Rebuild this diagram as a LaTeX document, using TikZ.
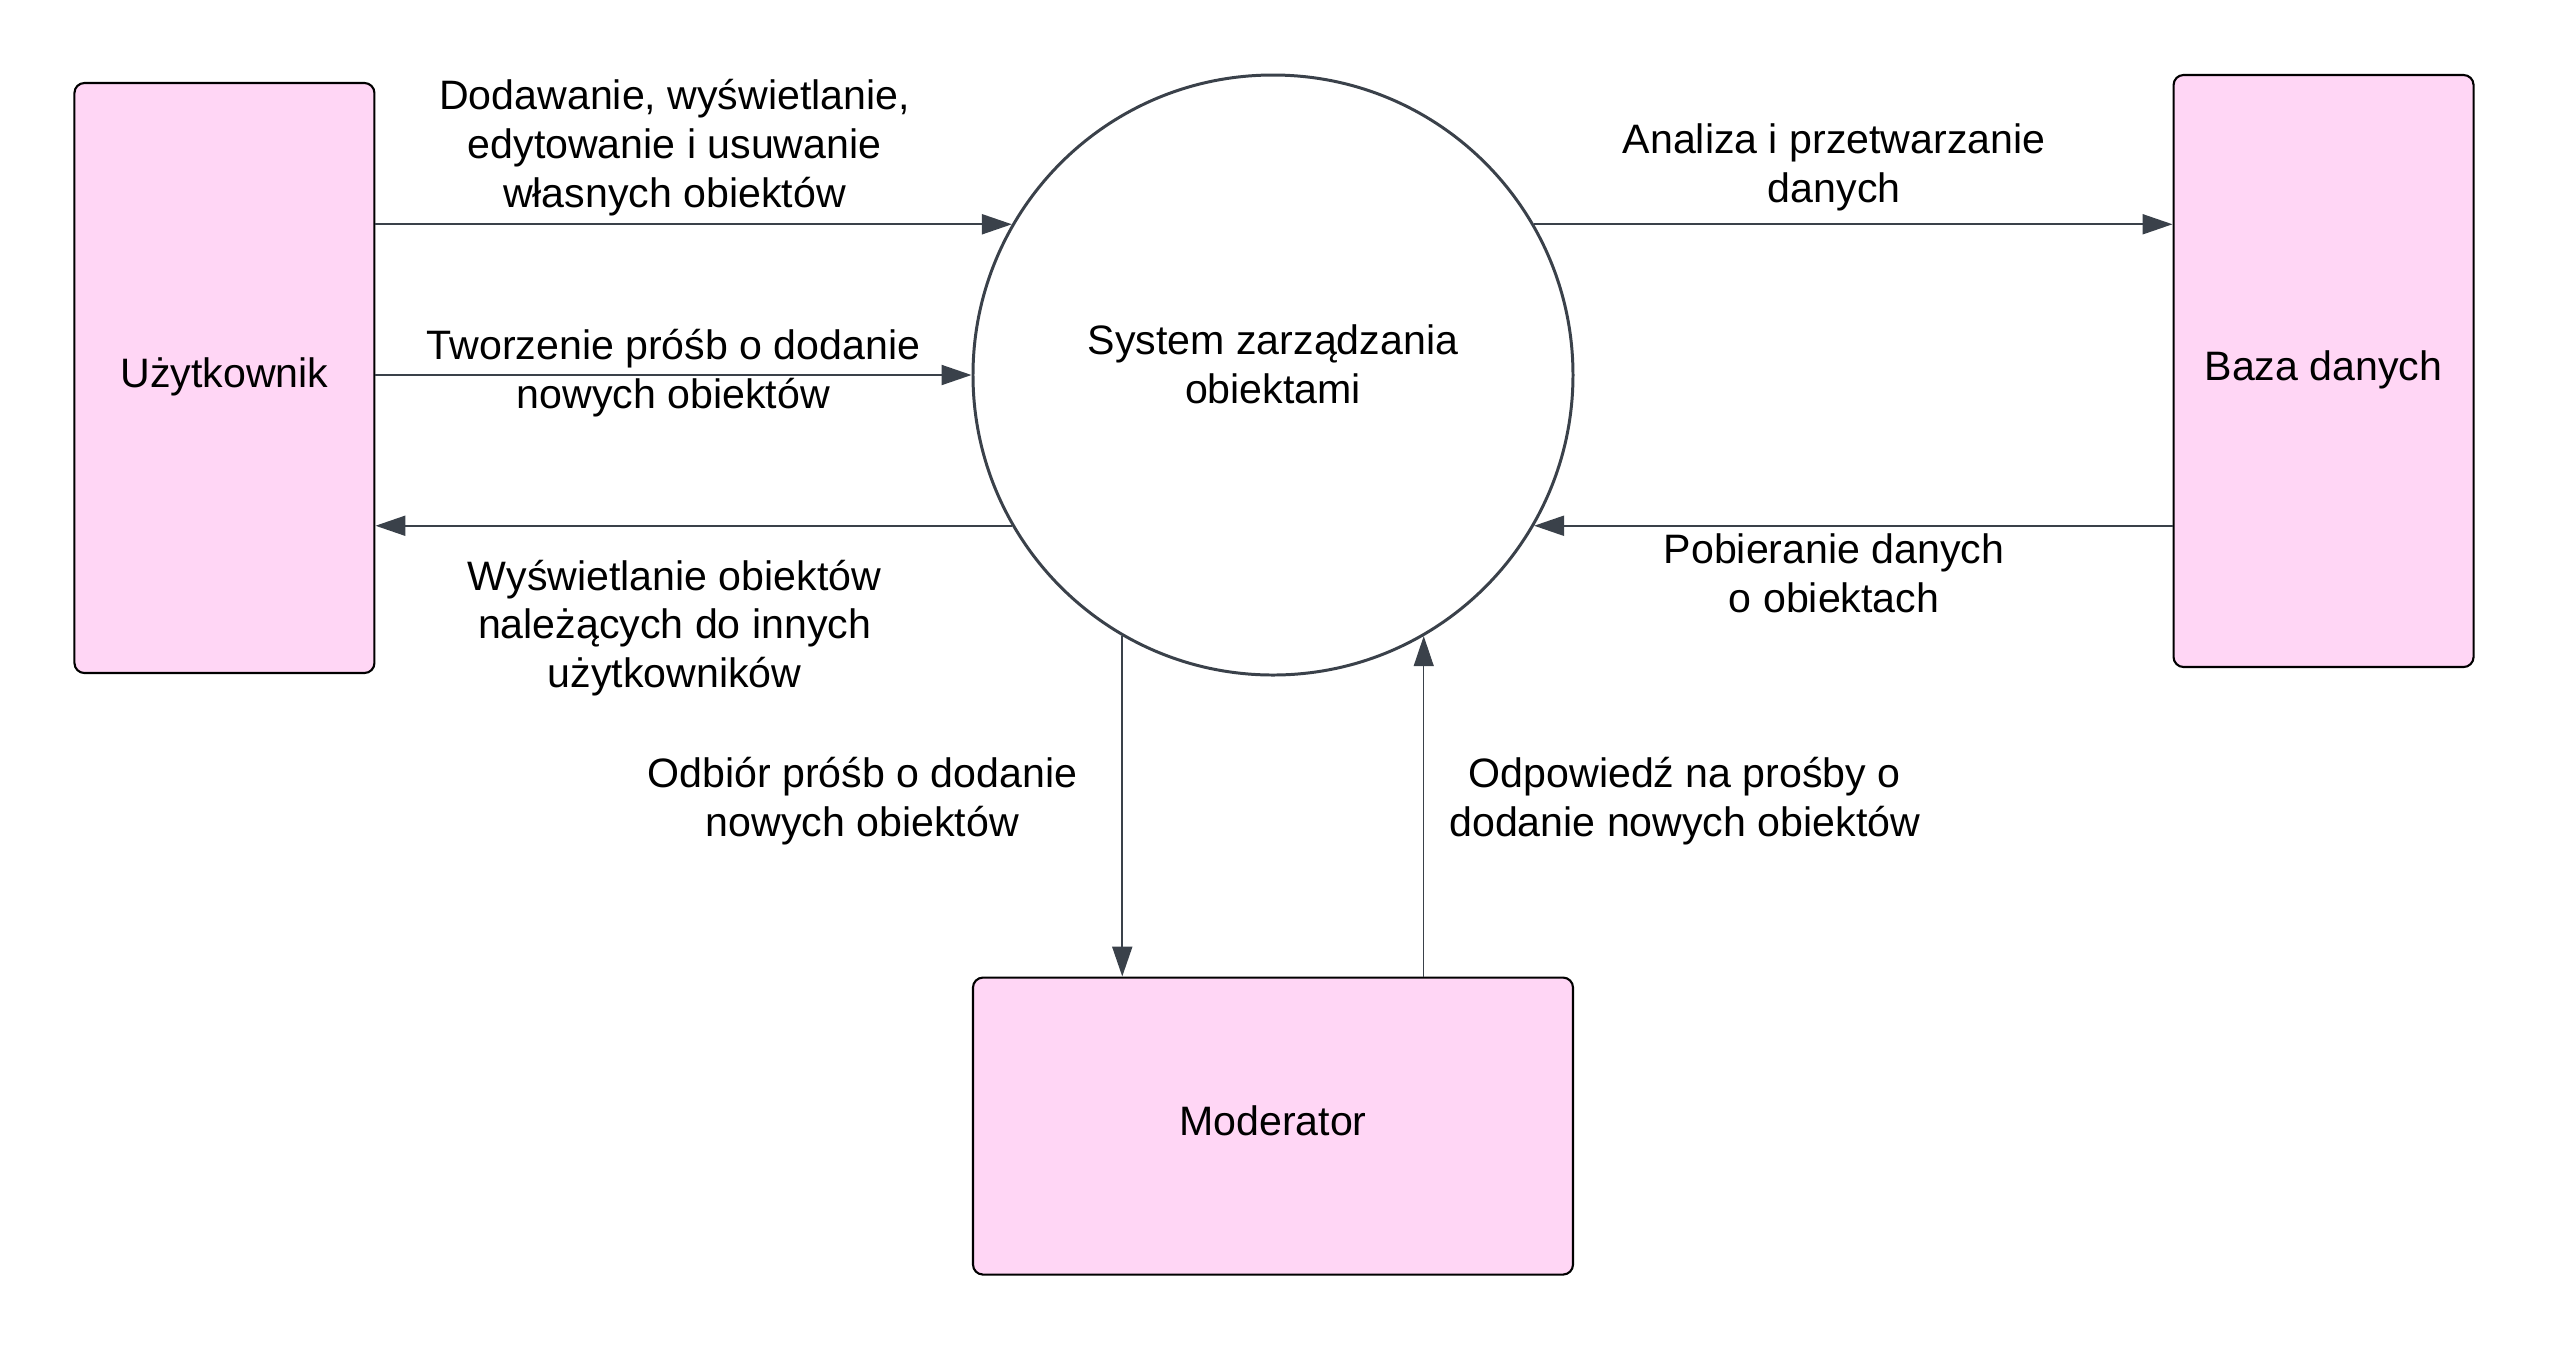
\documentclass[tikz,border=0pt]{standalone}
\usepackage{fontspec}
\setmainfont{Liberation Sans}
\usepackage{xcolor}
\usetikzlibrary{shapes.geometric,positioning}
\usetikzlibrary{arrows.meta}

\definecolor{boxpink}{RGB}{255,214,245}
\definecolor{linegray}{RGB}{58,65,74}

\begin{document}
\begin{tikzpicture}[every node/.style={font=\fontsize{11.7}{13.9}\selectfont}, node distance=3cm,
  actor/.style={draw=black, line width=0.6pt, fill=boxpink, rounded corners=0.1cm, text height=8.6pt, text depth=3.2pt},
  flow/.style={draw=linegray, line width=0.6pt, -{Triangle[length=0.3cm, width=0.2cm]}},
  lbl/.style={align=center, inner sep=2pt}]

\useasboundingbox (-12.73,3.75) rectangle (12.77,-9.75);

\node[draw=linegray, line width=0.85pt, circle, minimum size=6cm, align=center, text depth=6.4pt] (system) {System zarządzania\\obiektami};

\node[actor, minimum width=3cm, minimum height=5.9cm, left=5.96cm of system, yshift=-0.03cm] (user) {Użytkownik};
\node[actor, minimum width=3cm, minimum height=5.92cm, right=5.98cm of system, yshift=0.04cm] (db) {Baza danych};
\node[actor, minimum width=6cm, minimum height=2.97cm, below=3cm of system] (moderator) {Moderator};

\draw[flow] (user.east |- system.150) -- node[lbl, above, pos=0.47] (add) {Dodawanie, wyświetlanie,\\edytowanie i usuwanie\\własnych obiektów} (system.150);
\draw[flow] (user.east |- system.west) -- node[lbl, pos=0.5, yshift=0.02cm] (request) {Tworzenie próśb o dodanie\\nowych obiektów} (system.west);
\draw[flow] (system.210) -- node[lbl, below=0.26cm, pos=0.53] (view) {Wyświetlanie obiektów\\należących do innych\\użytkowników} (user.east |- system.210);

\draw[flow] (system.30) -- node[lbl, above=0.05cm, pos=0.47] (process) {Analiza i przetwarzanie\\danych} (db.west |- system.30);
\draw[flow] (db.west |- system.-30) -- node[lbl, below, pos=0.53] (fetch) {Pobieranie danych\\o obiektach} (system.-30);

\draw[flow] (system.-120) -- node[lbl, left=0.37cm, pos=0.485] (receive) {Odbiór próśb o dodanie\\nowych obiektów} (system.-120 |- moderator.north);
\draw[flow, line width=0.3pt] (system.-60 |- moderator.north) -- node[lbl, right=0.18cm, pos=0.515] (answer) {Odpowiedź na prośby o\\dodanie nowych obiektów} (system.-60);

\end{tikzpicture}
\end{document}
